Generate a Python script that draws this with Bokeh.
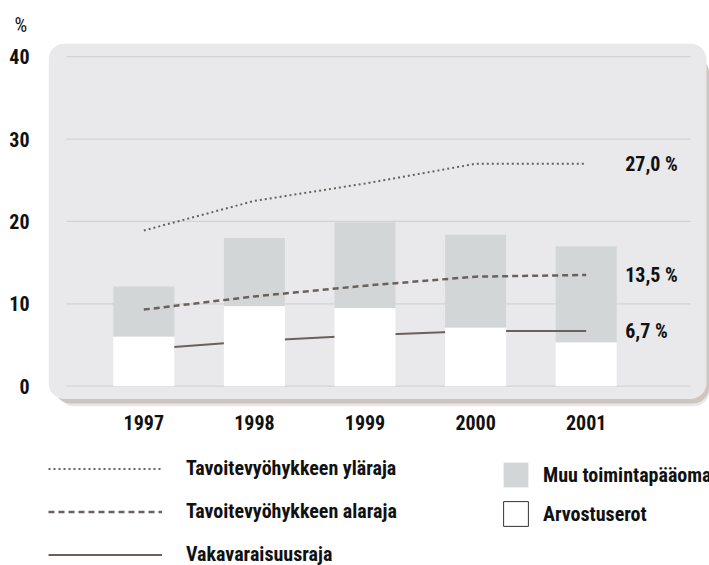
from bokeh.plotting import figure
from bokeh.layouts import column
from bokeh.models import Range1d, FixedTicker, BoxAnnotation, Legend, LegendItem
from bokeh.core.properties import value
from bokeh.embed import file_html
from bokeh.resources import INLINE

# ---- data ----
years = [1997, 1998, 1999, 2000, 2001]
arvostuserot = [6.0, 9.7, 9.5, 7.1, 5.3]            # white part
muu_toimintapaaoma = [6.1, 8.3, 10.4, 11.3, 11.7]    # grey part on top
ylaraja = [18.9, 22.5, 24.6, 27.0, 27.0]             # dotted
alaraja = [9.3, 10.9, 12.2, 13.3, 13.5]              # dashed
vakavaraisuusraja = [4.5, 5.5, 6.2, 6.7, 6.7]        # solid
y_ticks = [0, 10, 20, 30, 40]
end_labels = ["27,0 %", "13,5 %", "6,7 %"]
line_names = ["Tavoitevyöhykkeen yläraja", "Tavoitevyöhykkeen alaraja", "Vakavaraisuusraja"]
bar_names = ["Muu toimintapääoma", "Arvostuserot"]
unit_label = "%"

# ---- styling / layout ----
FONT = "'Roboto Condensed', 'Liberation Sans Narrow', 'DejaVu Sans Condensed', 'Noto Sans', sans-serif"
LINE_C = "#6a615c"
GREY = "#d3d6d7"
PANEL = "#e9e9eb"
GRID = "#d2d3d6"
TXT = "#111111"
FS = "20px"
W = 709
H1, H2 = 445, 120
F_L, F_R, F_T, F_B = 48, 709, 43, 406          # frame edges (px)
PX_YEAR, X_FIRST = 110.6, 143.3                 # px per year, px of first year
PX_UNIT, Y_ZERO = 8.2375, 385.7                 # px per %-unit, px of zero

def px2x(px):
    return years[0] + (px - X_FIRST) / PX_YEAR

def px2y(py):
    return (Y_ZERO - py) / PX_UNIT

p = figure(width=W, height=H1, output_backend="svg", toolbar_location=None,
           x_range=Range1d(px2x(F_L), px2x(F_R)), y_range=Range1d(px2y(F_B), px2y(F_T)),
           min_border_left=F_L, min_border_right=W - F_R, min_border_top=F_T,
           min_border_bottom=H1 - F_B)
p.outline_line_color = None
p.background_fill_color = "white"
p.border_fill_color = "white"
p.grid.visible = False

# panel with soft shadow
p.add_layout(BoxAnnotation(left=px2x(58), top=px2y(60), fill_color="#ebe7e4", fill_alpha=1,
                           line_color=None, border_radius=16, level="underlay"))
p.add_layout(BoxAnnotation(left=px2x(54), top=px2y(56), right=px2x(708.5), bottom=px2y(403),
                           fill_color="#cdc5be", fill_alpha=1, line_color=None,
                           border_radius=16, level="underlay"))
p.add_layout(BoxAnnotation(right=px2x(706), bottom=px2y(398.5), fill_color=PANEL, fill_alpha=1,
                           line_color=None, border_radius=16, level="underlay"))

# gridlines
p.segment(x0=[px2x(66)] * len(y_ticks), x1=[px2x(690)] * len(y_ticks),
          y0=y_ticks, y1=y_ticks, line_color=GRID, line_width=1.2)

bw = 61 / PX_YEAR
totals = [a + m for a, m in zip(arvostuserot, muu_toimintapaaoma)]
p.vbar(x=years, bottom=arvostuserot, top=totals, width=bw, fill_color=GREY, line_color=None)

DOT = dict(line_color=LINE_C, line_width=2, line_dash="2 3")
DASH = dict(line_color=LINE_C, line_width=2.5, line_dash="6 4")
SOLID = dict(line_color=LINE_C, line_width=2)
p.line(years, ylaraja, **DOT)
p.line(years, alaraja, **DASH)
p.line(years, vakavaraisuusraja, **SOLID)

p.vbar(x=years, bottom=0, top=arvostuserot, width=bw, fill_color="white", line_color=None)

p.text(x=[years[-1]] * 3, y=[ylaraja[-1], alaraja[-1], vakavaraisuusraja[-1]], text=end_labels,
       x_offset=39, text_baseline="middle", text_align="left", text_font=value(FONT),
       text_font_style="bold", text_font_size=FS, text_color=TXT)

# axes
for ax in (p.xaxis[0], p.yaxis[0]):
    ax.axis_line_color = None
    ax.major_tick_line_color = None
    ax.minor_tick_line_color = None
    ax.major_tick_out = 0
    ax.major_tick_in = 0
    ax.major_label_text_font = FONT
    ax.major_label_text_font_style = "bold"
    ax.major_label_text_font_size = FS
    ax.major_label_text_color = TXT
p.yaxis.ticker = FixedTicker(ticks=y_ticks)
p.yaxis.major_label_standoff = 19
p.xaxis.ticker = FixedTicker(ticks=years)
p.xaxis.major_label_overrides = {y: str(y) for y in years}
p.xaxis.major_label_standoff = 8

p.title.text = unit_label
p.title.align = "left"
p.title.offset = -34
p.title.standoff = 14
p.title.text_font = FONT
p.title.text_font_style = "normal"
p.title.text_font_size = "20px"
p.title.text_color = TXT

# ---- legend strip (its frame is aligned with the chart frame, left edge at 48 px) ----
lg = figure(width=W, height=H2, output_backend="svg", toolbar_location=None,
            x_range=Range1d(0, 1), y_range=Range1d(0, 1), x_axis_location=None,
            y_axis_location=None, min_border=0)
lg.outline_line_color = None
lg.grid.visible = False
lg.background_fill_color = "white"
lg.border_fill_color = "white"
NAN = [float("nan")]
l_dot = lg.line(NAN, NAN, **DOT)
l_dash = lg.line(NAN, NAN, **DASH)
l_solid = lg.line(NAN, NAN, **SOLID)
l_grey = lg.vbar(x=NAN, top=NAN, width=0.1, fill_color=GREY, line_color=None)
l_white = lg.vbar(x=NAN, top=NAN, width=0.1, fill_color="white", line_color="#333333", line_width=1)

common = dict(padding=0, margin=0, border_line_color=None, background_fill_alpha=0,
              label_text_font=FONT, label_text_font_style="bold", label_text_font_size=FS,
              label_text_color=TXT)
leg1 = Legend(items=[LegendItem(label=line_names[0], renderers=[l_dot]),
                     LegendItem(label=line_names[1], renderers=[l_dash]),
                     LegendItem(label=line_names[2], renderers=[l_solid])],
              location=(0, -1), glyph_width=114, glyph_height=19, label_height=19,
              spacing=19, label_standoff=24, label_text_baseline="alphabetic", **common)
leg2 = Legend(items=[LegendItem(label=bar_names[0], renderers=[l_grey]),
                     LegendItem(label=bar_names[1], renderers=[l_white])],
              location=(452, 36), glyph_width=31, glyph_height=31, label_height=31,
              spacing=8, label_standoff=12, **common)
lg.add_layout(leg1)
lg.add_layout(leg2)

layout = column(p, lg)
open("out.html", "w").write(file_html(layout, INLINE))
